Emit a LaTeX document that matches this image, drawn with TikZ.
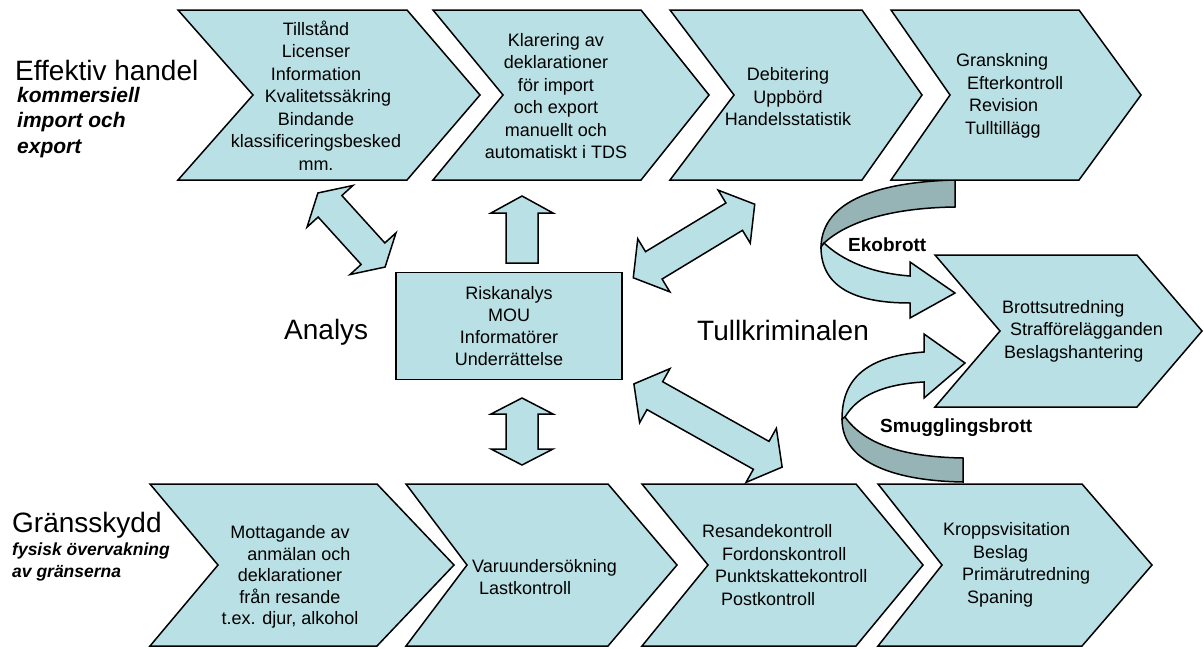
\documentclass[tikz,border=0pt]{standalone}
\usepackage{fontspec}
\setmainfont{Liberation Sans}
\definecolor{chevfill}{RGB}{185,224,228}
\definecolor{foldfill}{RGB}{150,180,182}

\begin{document}
\begin{tikzpicture}[x=1pt,y=-1pt,
  chev/.style={draw=black, line width=1.5pt, fill=chevfill},
  fold/.style={draw=black, line width=1.5pt, fill=foldfill},
  blockarrow/.style={draw=black, line width=1.5pt, fill=chevfill},
  chevtext/.style={inner sep=0pt, font=\fontsize{18}{22.5}\selectfont},
  bigtext/.style={inner sep=0pt, anchor=west, font=\fontsize{28}{32}\selectfont},
  subtext/.style={inner sep=0pt, anchor=west, align=left, font=\bfseries\itshape\fontsize{21}{25.5}\selectfont},
  crimetext/.style={inner sep=0pt, anchor=west, font=\bfseries\fontsize{19}{22}\selectfont},
  pics/dblarrow/.style 2 args={code={
    \draw[blockarrow] (-#1,0) -- (-#1+#2,-31) -- (-#1+#2,-16) -- (#1-#2,-16) -- (#1-#2,-31)
      -- (#1,0) -- (#1-#2,31) -- (#1-#2,16) -- (-#1+#2,16) -- (-#1+#2,31) -- cycle;}}]
\useasboundingbox (0,0) rectangle (1204,648);

% ribbons to the crime chevron
\draw[fold] (955,180) .. controls (880,182) and (822,200) .. (821,247) -- (824,243)
  .. controls (845,224) and (885,208) .. (955,207) -- cycle;
\draw[blockarrow] (824,243) .. controls (842,260) and (870,273) .. (910,276) -- (910,262) -- (955,293)
  -- (910,318) -- (910,303) .. controls (860,303) and (821,290) .. (821,247) -- cycle;
\draw[blockarrow] (924,352) -- (924,334) -- (965,363) -- (924,398) -- (924,382)
  .. controls (885,384) and (858,395) .. (845,417) -- (842,419) .. controls (842,376) and (870,356) .. (924,352) -- cycle;
\draw[fold] (842,419) .. controls (842,465) and (900,481) .. (963,482) -- (963,458)
  .. controls (905,457) and (865,445) .. (845,417) -- cycle;

% top row
\draw[chev] (178,10) -- (407,10) -- (480,95) -- (407,180) -- (178,180) -- (253,95) -- cycle;
\draw[chev] (433,10) -- (641,10) -- (709,95) -- (641,180) -- (433,180) -- (503,95) -- cycle;
\draw[chev] (670,10) -- (862,10) -- (922,95) -- (862,180) -- (670,180) -- (734,95) -- cycle;
\draw[chev] (891,10) -- (1079,10) -- (1141,95) -- (1079,180) -- (891,180) -- (950,95) -- cycle;

% bottom row
\draw[chev] (150,484) -- (377,484) -- (454,565) -- (377,646) -- (150,646) -- (218,565) -- cycle;
\draw[chev] (406,484) -- (608,484) -- (677,565) -- (608,646) -- (406,646) -- (467,565) -- cycle;
\draw[chev] (642,484) -- (856,484) -- (923,565) -- (856,646) -- (642,646) -- (708,565) -- cycle;
\draw[chev] (878,484) -- (1082,484) -- (1152,565) -- (1082,646) -- (878,646) -- (942,565) -- cycle;

% crime chevron
\draw[chev] (935,255) -- (1137,255) -- (1202,331) -- (1137,407) -- (935,407) -- (1000,331) -- cycle;

% analysis box
\node[draw=black, line width=1.5pt, fill=chevfill, minimum width=226pt, minimum height=107pt,
  align=center, font=\fontsize{18}{22}\selectfont] (risk) at (509,326)
  {Riskanalys\\MOU\\Informatörer\\Underrättelse};

% block arrows round the box
\pic[rotate=-47.8] at (351.5,230) {dblarrow={50}{18}};
\draw[blockarrow] (522,196) -- (553,213) -- (538,213) -- (538,263) -- (506,263) -- (506,213) -- (491,213) -- cycle;
\pic[rotate=90] at (522,431.5) {dblarrow={33.5}{16}};
\pic[rotate=31.2] at (694,241) {dblarrow={71}{24}};
\pic[rotate=-29.3] at (708,425.5) {dblarrow={85}{24}};

% texts in the chevrons
\node[chevtext, align=center] (tillstand) at (316,95.5)
  {Tillstånd\\Licenser\\Information\\\hspace*{24pt}Kvalitetssäkring\\Bindande\\klassificeringsbesked\\mm.};
\node[chevtext, align=center] (klarering) at (556,96)
  {Klarering av\\deklarationer\\för import\\och export\\manuellt och\\automatiskt i TDS};
\node[chevtext, align=center] (debitering) at (788,97) {Debitering\\Uppbörd\\Handelsstatistik};
\node[chevtext, align=left, anchor=west] (granskning) at (956,96)
  {Granskning\\\hspace*{11pt}Efterkontroll\\\hspace*{13pt}Revision\\\hspace*{9pt}Tulltillägg};
\node[chevtext, align=left, anchor=west] (brott) at (1002,331)
  {Brottsutredning\\\hspace*{8pt}Strafförelägganden\\\hspace*{2pt}Beslagshantering};
\node[chevtext, align=center, font=\fontsize{18}{21.5}\selectfont] (mottagande) at (290,577)
  {Mottagande av\\\hspace*{18pt}anmälan och\\deklarationer\\från resande\\t.ex. djur, alkohol};
\node[chevtext, align=left, anchor=west] (varu) at (472,577) {Varuundersökning\\\hspace*{7pt}Lastkontroll};
\node[chevtext, align=left, anchor=west] (resande) at (702,565)
  {Resandekontroll\\\hspace*{20pt}Fordonskontroll\\\hspace*{13pt}Punktskattekontroll\\\hspace*{19pt}Postkontroll};
\node[chevtext, align=left, anchor=west] (kropp) at (943,565)
  {Kroppsvisitation\\\hspace*{30pt}Beslag\\\hspace*{19pt}Primärutredning\\\hspace*{24pt}Spaning};

% side labels
\node[bigtext] (effektiv) at (15,70) {Effektiv handel};
\node[subtext] (kommersiell) at (17,122.5) {kommersiell\\import och\\export};
\node[bigtext] (analys) at (284,332) {Analys};
\node[bigtext] (tullkrim) at (697,330) {Tullkriminalen};
\node[bigtext] (grans) at (12,525) {Gränsskydd};
\node[subtext, font=\bfseries\itshape\fontsize{17.5}{22}\selectfont] (fysisk) at (12,562) {fysisk övervakning\\av gränserna};
\node[crimetext] (ekobrott) at (848,245) {Ekobrott};
\node[crimetext] (smuggling) at (880,428) {Smugglingsbrott};
\end{tikzpicture}
\end{document}
